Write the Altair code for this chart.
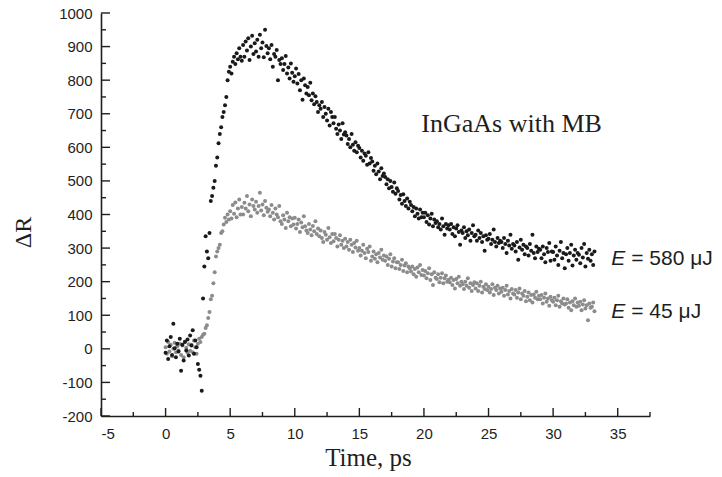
import altair as alt
import pandas as pd

# Time grid, ps (one row per picosecond)
time_ps = [
    0.0, 0.1, 0.2, 0.3, 0.4, 0.5, 0.6, 0.7, 0.8, 0.9,
    1.0, 1.1, 1.2, 1.3, 1.4, 1.5, 1.6, 1.7, 1.8, 1.9,
    2.0, 2.1, 2.2, 2.3, 2.4, 2.5, 2.6, 2.7, 2.8, 2.9,
    3.0, 3.1, 3.2, 3.3, 3.4, 3.5, 3.6, 3.7, 3.8, 3.9,
    4.0, 4.1, 4.2, 4.3, 4.4, 4.5, 4.6, 4.7, 4.8, 4.9,
    5.0, 5.1, 5.2, 5.3, 5.4, 5.5, 5.6, 5.7, 5.8, 5.9,
    6.0, 6.1, 6.2, 6.3, 6.4, 6.5, 6.6, 6.7, 6.8, 6.9,
    7.0, 7.1, 7.2, 7.3, 7.4, 7.5, 7.6, 7.7, 7.8, 7.9,
    8.0, 8.1, 8.2, 8.3, 8.4, 8.5, 8.6, 8.7, 8.8, 8.9,
    9.0, 9.1, 9.2, 9.3, 9.4, 9.5, 9.6, 9.7, 9.8, 9.9,
    10.0, 10.1, 10.2, 10.3, 10.4, 10.5, 10.6, 10.7, 10.8, 10.9,
    11.0, 11.1, 11.2, 11.3, 11.4, 11.5, 11.6, 11.7, 11.8, 11.9,
    12.0, 12.1, 12.2, 12.3, 12.4, 12.5, 12.6, 12.7, 12.8, 12.9,
    13.0, 13.1, 13.2, 13.3, 13.4, 13.5, 13.6, 13.7, 13.8, 13.9,
    14.0, 14.1, 14.2, 14.3, 14.4, 14.5, 14.6, 14.7, 14.8, 14.9,
    15.0, 15.1, 15.2, 15.3, 15.4, 15.5, 15.6, 15.7, 15.8, 15.9,
    16.0, 16.1, 16.2, 16.3, 16.4, 16.5, 16.6, 16.7, 16.8, 16.9,
    17.0, 17.1, 17.2, 17.3, 17.4, 17.5, 17.6, 17.7, 17.8, 17.9,
    18.0, 18.1, 18.2, 18.3, 18.4, 18.5, 18.6, 18.7, 18.8, 18.9,
    19.0, 19.1, 19.2, 19.3, 19.4, 19.5, 19.6, 19.7, 19.8, 19.9,
    20.0, 20.1, 20.2, 20.3, 20.4, 20.5, 20.6, 20.7, 20.8, 20.9,
    21.0, 21.1, 21.2, 21.3, 21.4, 21.5, 21.6, 21.7, 21.8, 21.9,
    22.0, 22.1, 22.2, 22.3, 22.4, 22.5, 22.6, 22.7, 22.8, 22.9,
    23.0, 23.1, 23.2, 23.3, 23.4, 23.5, 23.6, 23.7, 23.8, 23.9,
    24.0, 24.1, 24.2, 24.3, 24.4, 24.5, 24.6, 24.7, 24.8, 24.9,
    25.0, 25.1, 25.2, 25.3, 25.4, 25.5, 25.6, 25.7, 25.8, 25.9,
    26.0, 26.1, 26.2, 26.3, 26.4, 26.5, 26.6, 26.7, 26.8, 26.9,
    27.0, 27.1, 27.2, 27.3, 27.4, 27.5, 27.6, 27.7, 27.8, 27.9,
    28.0, 28.1, 28.2, 28.3, 28.4, 28.5, 28.6, 28.7, 28.8, 28.9,
    29.0, 29.1, 29.2, 29.3, 29.4, 29.5, 29.6, 29.7, 29.8, 29.9,
    30.0, 30.1, 30.2, 30.3, 30.4, 30.5, 30.6, 30.7, 30.8, 30.9,
    31.0, 31.1, 31.2, 31.3, 31.4, 31.5, 31.6, 31.7, 31.8, 31.9,
    32.0, 32.1, 32.2, 32.3, 32.4, 32.5, 32.6, 32.7, 32.8, 32.9,
    33.0, 33.1, 33.2,
]

# Delta R for E = 580 uJ (black)
dR_580 = [
    -12, 25, -30, 8, 35, -18, 75, 2, -25, 15,
    -8, 30, -65, 12, -35, 20, -5, 28, -20, 40,
    10, 55, -15, 25, 5, -45, -62, -80, -125, 150,
    245, 335, 290, 270, 345, 440, 455, 480, 500, 545,
    570, 612, 640, 660, 690, 705, 725, 750, 800, 825,
    840, 820, 855, 870, 848, 880, 862, 895, 870, 858,
    905, 870, 915, 888, 925, 860, 900, 932, 878, 910,
    885, 920, 870, 935, 895, 912, 868, 950, 902, 880,
    895, 862, 905, 840, 878, 870, 890, 800, 860, 848,
    865, 830, 848, 872, 820, 838, 805, 850, 822, 795,
    812, 835, 790, 818, 770, 800, 742, 805, 785, 760,
    780, 755, 792, 740, 760, 728, 752, 735, 705, 725,
    715, 735, 690, 720, 700, 680, 715, 665, 705, 690,
    672, 690, 655, 640, 668, 650, 625, 672, 638, 645,
    635, 610, 625, 600, 640, 608, 590, 615, 585, 605,
    598, 570, 590, 560, 582, 575, 548, 585, 552, 568,
    558, 530, 545, 520, 552, 528, 505, 538, 515, 522,
    512, 490, 505, 478, 500, 482, 468, 495, 462, 478,
    470, 445, 458, 432, 460, 440, 425, 448, 418, 438,
    428, 410, 422, 395, 418, 402, 388, 415, 392, 405,
    392, 405, 378, 398, 370, 388, 402, 365, 385, 375,
    380, 362, 372, 355, 388, 365, 340, 372, 358, 368,
    355, 372, 342, 362, 335, 358, 368, 348, 310, 352,
    345, 362, 330, 350, 338, 355, 322, 345, 368, 335,
    340, 322, 352, 330, 345, 318, 335, 292, 338, 325,
    328, 342, 312, 325, 355, 318, 305, 330, 315, 322,
    318, 300, 330, 312, 285, 322, 308, 340, 298, 312,
    308, 290, 318, 265, 302, 325, 295, 310, 282, 305,
    300, 278, 312, 292, 340, 285, 270, 305, 288, 298,
    295, 270, 305, 282, 258, 300, 288, 315, 262, 290,
    288, 265, 305, 278, 250, 292, 318, 270, 285, 240,
    282, 300, 262, 285, 310, 248, 278, 295, 265, 285,
    280, 255, 300, 272, 312, 245, 285, 268, 295, 262,
    282, 250, 290,
]

# Delta R for E = 45 uJ (grey)
dR_45 = [
    5, -15, 20, -8, 12, -22, 0, 18, -10, 8,
    -5, 15, -18, 10, -25, 22, 3, -12, 14, -6,
    12, -10, 25, 5, -15, 15, 30, 20, 35, 42,
    45, 62, 70, 92, 110, 148, 158, 195, 228, 275,
    290, 300, 310, 345, 350, 370, 390, 378, 400, 385,
    410, 388, 428, 402, 436, 392, 418, 445, 400, 422,
    400, 435, 418, 455, 410, 430, 395, 445, 425, 415,
    438, 405, 425, 465, 412, 430, 398, 440, 420, 408,
    415, 395, 428, 405, 385, 418, 400, 392, 425, 380,
    372, 398, 385, 360, 405, 380, 392, 365, 388, 370,
    390, 358, 372, 385, 348, 376, 362, 395, 365, 352,
    345, 372, 355, 338, 366, 350, 380, 342, 358, 335,
    352, 330, 318, 348, 340, 325, 360, 332, 315, 342,
    320, 342, 330, 305, 325, 338, 310, 322, 300, 328,
    305, 318, 295, 325, 310, 288, 315, 302, 322, 292,
    300, 278, 292, 310, 285, 270, 298, 288, 305, 262,
    275, 290, 268, 282, 258, 285, 272, 295, 265, 278,
    262, 275, 250, 268, 282, 245, 260, 270, 240, 258,
    258, 238, 250, 265, 232, 248, 255, 228, 245, 240,
    230, 245, 222, 238, 215, 242, 228, 250, 220, 235,
    218, 232, 210, 225, 240, 205, 222, 190, 228, 212,
    208, 222, 198, 212, 225, 195, 210, 218, 200, 206,
    198, 212, 190, 205, 180, 208, 195, 215, 188, 200,
    192, 178, 200, 188, 210, 182, 195, 172, 190, 198,
    180, 195, 172, 188, 200, 168, 185, 178, 192, 175,
    185, 168, 178, 192, 160, 182, 175, 188, 165, 180,
    170, 182, 158, 175, 188, 162, 172, 150, 178, 165,
    162, 175, 152, 168, 180, 148, 165, 158, 172, 142,
    155, 168, 145, 160, 138, 162, 152, 170, 148, 158,
    148, 160, 135, 152, 165, 140, 150, 128, 155, 145,
    140, 152, 130, 145, 158, 125, 142, 135, 150, 132,
    135, 148, 122, 138, 115, 142, 130, 150, 125, 138,
    128, 140, 115, 132, 145, 120, 130, 85, 135, 122,
    125, 138, 112,
]

x_major = [-5, 0, 5, 10, 15, 20, 25, 30, 35]
x_minor = [-2.5, 2.5, 7.5, 12.5, 17.5, 22.5, 27.5, 32.5, 37.5]
y_major = [-200, -100, 0, 100, 200, 300, 400, 500, 600, 700, 800, 900, 1000]
y_minor = [-150, -50, 50, 150, 250, 350, 450, 550, 650, 750, 850, 950]

annotation = "InGaAs with MB"
label_E = "E"
label_580 = "= 580 \u03bcJ"
label_45 = "= 45 \u03bcJ"

AX = "#1e1e1e"
SANS = "Liberation Sans"
SERIF = "Liberation Serif"

df_580 = pd.DataFrame({"t": time_ps, "dR": dR_580})
df_45 = pd.DataFrame({"t": time_ps, "dR": dR_45})

xs = alt.Scale(domain=[-5, 37.5], nice=False, zero=False)
ys = alt.Scale(domain=[-200, 1000], nice=False, zero=False)

x_axis = alt.Axis(
    values=x_major, ticks=False, tickSize=0, grid=False,
    domainColor=AX, domainWidth=1.6, labelExpr="'' + datum.value",
    labelFont=SANS, labelFontSize=15, labelColor=AX, labelPadding=10,
    title="Time, ps", titleFont=SERIF, titleFontSize=25, titleFontWeight="normal",
    titleColor=AX, titleX=267, titleY=49, titleBaseline="alphabetic", titleAlign="center",
)
y_axis = alt.Axis(
    values=y_major, ticks=False, tickSize=0, grid=False, labelOverlap=False,
    domainColor=AX, domainWidth=1.6, labelExpr="'' + datum.value",
    labelFont=SANS, labelFontSize=15, labelColor=AX, labelPadding=9,
    title="\u0394R", titleFont=SERIF, titleFontSize=24, titleFontWeight="normal",
    titleColor=AX, titleX=-71, titleY=219, titleAngle=270,
    titleBaseline="alphabetic", titleAlign="center",
)

def xf(field):
    return alt.X(field, scale=xs, axis=x_axis)

def yf(field):
    return alt.Y(field, scale=ys, axis=y_axis)

def xd(v):
    return alt.XDatum(v, axis=x_axis)

def yd(v):
    return alt.YDatum(v, axis=y_axis)

grey = alt.Chart(df_45).mark_circle(size=16, color="#8c8c8c", opacity=1).encode(
    x=xf("t:Q"), y=yf("dR:Q"),
)
black = alt.Chart(df_580).mark_circle(size=16, color="#1a1a1a", opacity=1).encode(
    x=xf("t:Q"), y=yf("dR:Q"),
)

# inward ticks
xt_major = alt.Chart(pd.DataFrame({"v": x_major})).mark_rule(
    color=AX, strokeWidth=1.4, y2Offset=-8
).encode(x=xf("v:Q"), y=yd(-200), y2=alt.datum(-200))
xt_minor = alt.Chart(pd.DataFrame({"v": x_minor})).mark_rule(
    color=AX, strokeWidth=1.4, y2Offset=-4
).encode(x=xf("v:Q"), y=yd(-200), y2=alt.datum(-200))
yt_major = alt.Chart(pd.DataFrame({"v": y_major})).mark_rule(
    color=AX, strokeWidth=1.4, x2Offset=9
).encode(y=yf("v:Q"), x=xd(-5), x2=alt.datum(-5))
yt_minor = alt.Chart(pd.DataFrame({"v": y_minor})).mark_rule(
    color=AX, strokeWidth=1.4, x2Offset=5
).encode(y=yf("v:Q"), x=xd(-5), x2=alt.datum(-5))

ann = alt.Chart().mark_text(
    text=annotation, font=SERIF, fontSize=26, color=AX, align="left", baseline="alphabetic"
).encode(x=xd(19.8), y=yd(646))

def energy_label(rest, yv):
    e = alt.Chart().mark_text(
        text=label_E, font=SANS, fontSize=21, fontStyle="italic", color=AX,
        align="left", baseline="alphabetic"
    ).encode(x=xd(34.5), y=yd(yv))
    r = alt.Chart().mark_text(
        text=rest, font=SANS, fontSize=21, color=AX,
        align="left", baseline="alphabetic", dx=20
    ).encode(x=xd(34.5), y=yd(yv))
    return e + r

chart = alt.layer(
    grey, black, xt_major, xt_minor, yt_major, yt_minor, ann,
    energy_label(label_580, 250), energy_label(label_45, 91),
).properties(
    width=549, height=403,
    autosize=alt.AutoSizeParams(type="none"),
    padding={"left": 101, "top": 13, "right": 72, "bottom": 61},
    background="white",
).configure_view(stroke=None)

chart.save("out.html", embed_options={"renderer": "svg", "actions": False})
